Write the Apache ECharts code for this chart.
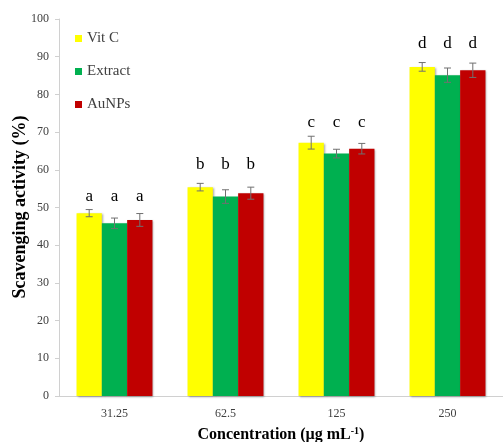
<!DOCTYPE html>
<html>
<head>
<meta charset="utf-8">
<script src="https://cdn.jsdelivr.net/npm/echarts@6/dist/echarts.min.js"></script>
<style>html,body{margin:0;padding:0;background:#fff}#c{width:503px;height:442px}</style>
</head>
<body>
<div id="c"></div>
<script>
const categories = ['31.25', '62.5', '125', '250'];
const seriesNames = ['Vit C', 'Extract', 'AuNPs'];
const vitC = [48.5, 55.4, 67.2, 87.3];
const extract = [45.8, 52.9, 64.3, 85.1];
const aunps = [46.7, 53.8, 65.6, 86.4];
const vitCErr = [0.95, 1.0, 1.7, 1.15];
const extractErr = [1.4, 1.8, 1.15, 1.9];
const aunpsErr = [1.7, 1.6, 1.4, 1.9];
const letters = ['a', 'b', 'c', 'd'];
const letterLevel = [52.8, 61.5, 72.5, 93.6];
const yTicks = [0, 10, 20, 30, 40, 50, 60, 70, 80, 90, 100];
const yTitle = 'Scavenging activity (%)';

const colors = ['#FFFF00', '#00B050', '#C00000'];
const values = [vitC, extract, aunps];
const errs = [vitCErr, extractErr, aunpsErr];
const BW = 0.228;
const serif = '"Liberation Serif", "Times New Roman", serif';

const chart = echarts.init(document.getElementById('c'));
const series = [];
values.forEach((vals, si) => {
  series.push({
    name: seriesNames[si], type: 'bar', data: vals,
    barWidth: (BW * 100) + '%', barGap: '0%',
    itemStyle: { color: colors[si], shadowColor: 'rgba(0,0,0,0.35)', shadowBlur: 2, shadowOffsetX: 1, shadowOffsetY: 1 },
    z: 2
  });
});
values.forEach((vals, si) => {
  series.push({
    type: 'custom', name: seriesNames[si] + ' err', z: 5, silent: true,
    data: vals.map((v, i) => [i, v, errs[si][i]]),
    renderItem: function (params, api) {
      const i = api.value(0), v = api.value(1), e = api.value(2);
      const bw = api.size([1, 0])[0] * BW;
      const off = (si - 1) * bw;
      const top = api.coord([i, v + e]);
      const bot = api.coord([i, v - e]);
      const x = top[0] + off;
      const cap = 3.5;
      const st = { stroke: '#707070', lineWidth: 1 };
      return { type: 'group', children: [
        { type: 'line', shape: { x1: x, y1: top[1], x2: x, y2: bot[1] }, style: st },
        { type: 'line', shape: { x1: x - cap, y1: top[1], x2: x + cap, y2: top[1] }, style: st },
        { type: 'line', shape: { x1: x - cap, y1: bot[1], x2: x + cap, y2: bot[1] }, style: st }
      ]};
    }
  });
});
values.forEach((vals, si) => {
  series.push({
    type: 'custom', name: seriesNames[si] + ' letter', z: 6, silent: true,
    data: letters.map((l, i) => [i, letterLevel[i]]),
    renderItem: function (params, api) {
      const i = api.value(0), y = api.value(1);
      const bw = api.size([1, 0])[0] * BW;
      const p = api.coord([i, y]);
      return { type: 'text', style: { x: p[0] + (si - 1) * bw, y: p[1], text: letters[i], textAlign: 'center', textVerticalAlign: 'middle', font: '17px ' + serif, fill: '#000' } };
    }
  });
});

chart.setOption({
  animation: false,
  grid: { left: 59, right: 0, top: 19, bottom: 46, outerBoundsMode: 'none', containLabel: false },
  legend: {
    data: seriesNames, orient: 'vertical', left: 70, top: 26,
    itemWidth: 7, itemHeight: 7, itemGap: 18, icon: 'rect',
    textStyle: { fontFamily: serif, fontSize: 15, color: '#404040' }
  },
  graphic: [{
    type: 'text', x: 20, y: 207, rotation: Math.PI / 2, silent: true,
    style: { text: yTitle, textAlign: 'center', textVerticalAlign: 'middle', font: 'bold 18px ' + serif, fill: '#000' }
  }],
  xAxis: {
    type: 'category', data: categories,
    axisLine: { lineStyle: { color: '#d0d0d0' } }, axisTick: { show: false },
    axisLabel: { fontFamily: serif, fontSize: 12, color: '#404040', margin: 12 },
    name: '{b|Concentration (µg mL}{s|-1}{b|)}', nameLocation: 'middle', nameGap: 30,
    nameTextStyle: { rich: { b: { fontFamily: serif, fontSize: 16, fontWeight: 'bold', color: '#000' }, s: { fontFamily: serif, fontSize: 10, fontWeight: 'bold', color: '#000', verticalAlign: 'top', padding: [0, 0, 8, 0] } } }
  },
  yAxis: {
    type: 'value', min: 0, max: 100, interval: 10,
    axisLine: { show: true, lineStyle: { color: '#d0d0d0' } },
    axisTick: { show: true, length: 4, lineStyle: { color: '#d0d0d0' } },
    splitLine: { show: false },
    axisLabel: { fontFamily: serif, fontSize: 12, color: '#404040', margin: 10,
      formatter: v => yTicks.includes(v) ? String(v) : '' }
  },
  series: series
});
</script>
</body>
</html>
